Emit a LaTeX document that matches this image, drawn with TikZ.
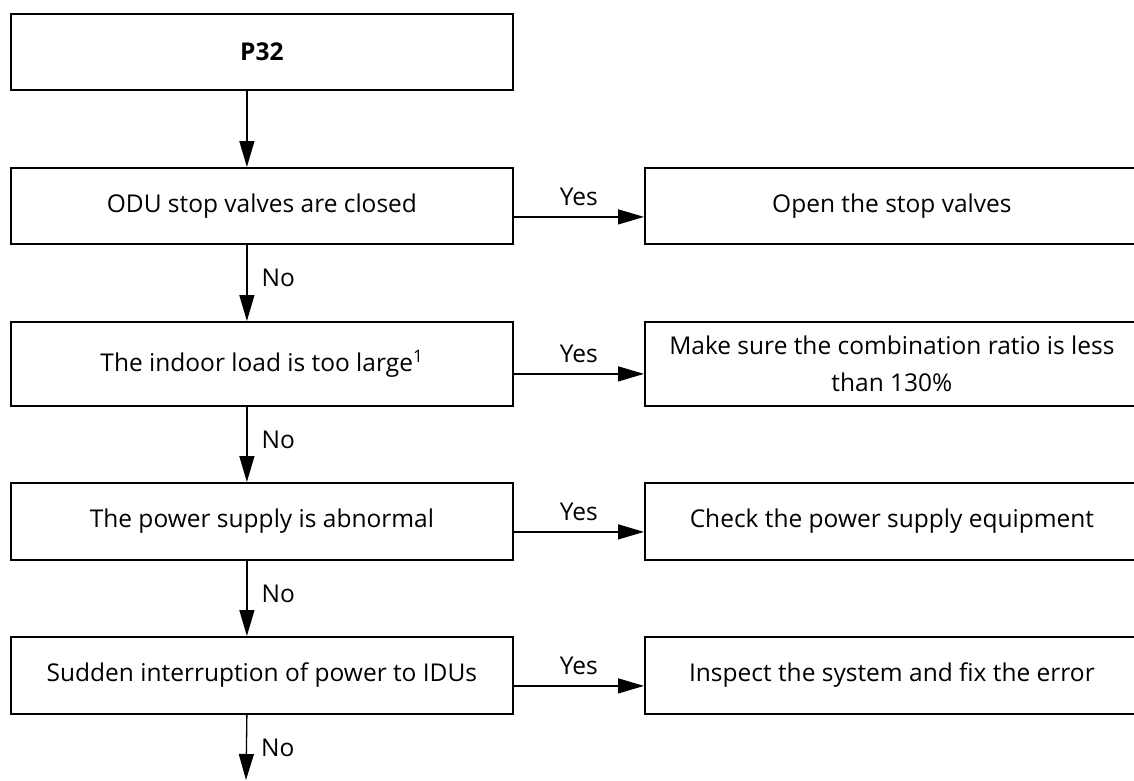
\documentclass[tikz,border=0pt]{standalone}
\usepackage{fontspec}
\setmainfont{Open Sans}
\usetikzlibrary{arrows.meta}
\begin{document}
\begin{tikzpicture}[x=1pt,y=-1pt,
  box/.style={draw, line width=1.8pt, rectangle, anchor=north west, inner sep=0pt,
    font=\fontsize{24.5}{37}\selectfont, align=center},
  lbox/.style={box, minimum width=502pt},
  rbox/.style={box, minimum width=494pt},
  arr/.style={line width=1.3pt, -{Triangle[length=26pt,width=15pt]}},
  lbl/.style={inner sep=0pt, font=\fontsize{24.5}{34}\selectfont}]
\useasboundingbox (0,0) rectangle (1134,780);
\clip (0,0) rectangle (1134,780);
% left column
\node[lbox, minimum height=76pt, font=\fontsize{24.5}{37}\selectfont\bfseries] (p32) at (10,13) {P32};
\node[lbox, minimum height=76pt] (q1) at (10,167) {ODU stop valves are closed};
\node[lbox, minimum height=84pt] (q2) at (10,321) {The indoor load is too large\textsuperscript{1}};
\node[lbox, minimum height=77pt] (q3) at (10,482) {The power supply is abnormal};
\node[lbox, minimum height=77pt] (q4) at (10,636) {Sudden interruption of power to IDUs};
% right column
\node[rbox, minimum height=76pt] (a1) at (644,167) {Open the stop valves};
\node[rbox, minimum height=84pt] (a2) at (644,321) {Make sure the combination ratio is less\\than 130\%};
\node[rbox, minimum height=77pt] (a3) at (644,482) {Check the power supply equipment};
\node[rbox, minimum height=77pt] (a4) at (644,636) {Inspect the system and fix the error};
\coordinate (end) at (246,780);
% vertical arrows
\draw[arr] ([xshift=-15pt]p32.south) -- ([xshift=-15pt]q1.north);
\draw[arr] ([xshift=-15pt]q1.south) -- ([xshift=-15pt]q2.north)
  node[lbl, midway, anchor=west, xshift=14pt, yshift=5pt] {No};
\draw[arr] ([xshift=-15pt]q2.south) -- ([xshift=-15pt]q3.north)
  node[lbl, midway, anchor=west, xshift=14pt, yshift=5pt] {No};
\draw[arr] ([xshift=-15pt]q3.south) -- ([xshift=-15pt]q4.north)
  node[lbl, midway, anchor=west, xshift=14pt, yshift=5pt] {No};
\draw[arr] ([xshift=-15pt]q4.south) -- (end)
  node[lbl, midway, anchor=west, xshift=14pt, yshift=0pt] {No};
% horizontal arrows
\draw[arr] ([yshift=-11pt]q1.east) -- ([yshift=-11pt]q1.east -| a1.west)
  node[lbl, midway, anchor=base, yshift=11pt] {Yes};
\draw[arr] ([yshift=-10pt]q2.east) -- ([yshift=-10pt]q2.east -| a2.west)
  node[lbl, midway, anchor=base, yshift=11pt] {Yes};
\draw[arr] ([yshift=-10.5pt]q3.east) -- ([yshift=-10.5pt]q3.east -| a3.west)
  node[lbl, midway, anchor=base, yshift=11pt] {Yes};
\draw[arr] ([yshift=-10.5pt]q4.east) -- ([yshift=-10.5pt]q4.east -| a4.west)
  node[lbl, midway, anchor=base, yshift=11pt] {Yes};
\end{tikzpicture}
\end{document}
